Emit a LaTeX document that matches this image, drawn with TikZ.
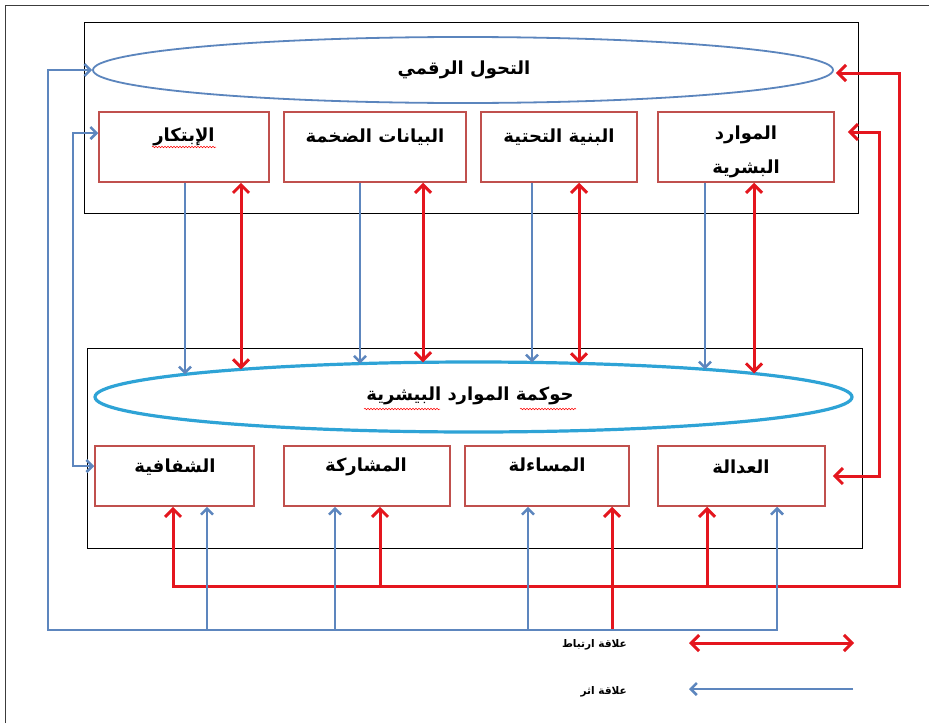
\documentclass[tikz,border=0pt]{standalone}
\usepackage{fontspec}
\newfontfamily\arabicfont[Script=Arabic]{DejaVu Sans}
\TeXXeTstate=1
\usetikzlibrary{arrows.meta,shapes.geometric,decorations.pathmorphing}
\newcommand\artxt[1]{\beginR #1\endR}
\definecolor{boxred}{HTML}{C0504D}
\definecolor{ellone}{HTML}{5B85BD}
\definecolor{elltwo}{HTML}{2EA3D6}
\definecolor{arrblue}{HTML}{5D86BE}
\definecolor{arrred}{HTML}{E4161E}
\definecolor{framec}{HTML}{3C3C3C}
\tikzset{
  redtip/.tip={Straight Barb[length=8pt,width=16pt]},
  bluetip/.tip={Straight Barb[length=6pt,width=12pt]},
  rbox/.style={draw=boxred, line width=1.5pt, inner sep=0pt, rectangle},
  cont/.style={draw=black, line width=0.8pt, inner sep=0pt, rectangle},
  lbl/.style={font=\arabicfont\bfseries\fontsize{18}{22}\selectfont, inner sep=0pt, align=center},
  leg/.style={font=\arabicfont\bfseries\fontsize{10.5}{13}\selectfont, inner sep=0pt},
  redarr/.style={draw=arrred, line width=3pt, -redtip},
  reddbl/.style={draw=arrred, line width=3pt, redtip-redtip},
  bluearr/.style={draw=arrblue, line width=2.5pt, -bluetip},
  bluedbl/.style={draw=arrblue, line width=2.5pt, bluetip-bluetip},
  squig/.style={draw=red, line width=0.5pt, decorate, decoration={snake, amplitude=0.8pt, segment length=3pt}}
}
\begin{document}
\begin{tikzpicture}[x=1pt,y=-1pt]
\useasboundingbox (0,0) rectangle (929,723);
\fill[white] (0,0) rectangle (929,723);
\draw[framec, line width=1pt] (5,723) -- (5,5) -- (929,5);

% containers
\node[cont, minimum width=774pt, minimum height=191pt] (topc) at (471,117.5) {};
\node[cont, minimum width=775pt, minimum height=200pt] (botc) at (474.5,448) {};

% ellipses
\node[ellipse, draw=ellone, line width=1.8pt, minimum width=740pt, minimum height=66pt, inner sep=0pt] (dt) at (463,70) {};
\node[lbl] (dtt) at (464,70) {\artxt{التحول الرقمي}};
\node[ellipse, draw=elltwo, line width=3.2pt, minimum width=757pt, minimum height=70pt, inner sep=0pt] (gov) at (473.5,397) {};
\node[lbl] (govt) at (470,396) {\artxt{حوكمة الموارد البيشرية}};

% top boxes
\node[rbox, minimum width=170pt, minimum height=70pt] (inn) at (184,147) {};
\node[rbox, minimum width=182pt, minimum height=70pt] (bigd) at (375,147) {};
\node[rbox, minimum width=156pt, minimum height=70pt] (infra) at (559,147) {};
\node[rbox, minimum width=176pt, minimum height=70pt] (hr) at (746,147) {};
\node[lbl] (innt) at (184,137) {\artxt{الإبتكار}};
\node[lbl] (bigdt) at (375,137) {\artxt{البيانات  الضخمة}};
\node[lbl] (infrat) at (559,137) {\artxt{البنية التحتية}};
\node[lbl] (hrt) at (746,152) {\artxt{الموارد}\\[12pt]\artxt{البشرية}};

% bottom boxes
\node[rbox, minimum width=159pt, minimum height=60pt] (trans) at (174.5,476) {};
\node[rbox, minimum width=166pt, minimum height=60pt] (part) at (367,476) {};
\node[rbox, minimum width=164pt, minimum height=60pt] (acc) at (547,476) {};
\node[rbox, minimum width=167pt, minimum height=60pt] (just) at (741.5,476) {};
\node[lbl] (transt) at (175,467) {\artxt{الشفافية}};
\node[lbl] (partt) at (366,467) {\artxt{المشاركة}};
\node[lbl] (acct) at (547,465) {\artxt{المساءلة}};
\node[lbl] (justt) at (741,467) {\artxt{العدالة}};

% points on the top of the lower ellipse
\coordinate (g1) at (185,374.3);
\coordinate (g2) at (360,363.6);
\coordinate (g3) at (532,362.4);
\coordinate (g4) at (705,369.3);
\coordinate (h1) at (241,369.4);
\coordinate (h2) at (423,362.3);
\coordinate (h3) at (579,363.4);
\coordinate (h4) at (754,373.5);

% influence arrows top -> governance
\draw[bluearr] (inn.south -| g1) -- (g1);
\draw[bluearr] (bigd.south -| g2) -- (g2);
\draw[bluearr] (infra.south -| g3) -- (g3);
\draw[bluearr] (hr.south -| g4) -- (g4);
% correlation arrows
\draw[reddbl] (inn.south -| h1) -- (h1);
\draw[reddbl] (bigd.south -| h2) -- (h2);
\draw[reddbl] (infra.south -| h3) -- (h3);
\draw[reddbl] (hr.south -| h4) -- (h4);

% lower red network
\coordinate (rl) at (173,586);
\coordinate (rr) at (899,586);
\coordinate (rb2) at (380,586);
\coordinate (rb3) at (707,586);
\coordinate (rb4) at (612,630);
\draw[reddbl] (trans.south -| rl) -- (rl) -- (rr) |- ([xshift=2pt,yshift=-3pt]dt.east);
\draw[redarr] (rb2) -- (part.south -| rb2);
\draw[redarr] (rb3) -- (just.south -| rb3);
\draw[redarr] (rb4) -- (acc.south -| rb4);

% lower blue network
\coordinate (bl) at (48,630);
\coordinate (br) at (777,630);
\coordinate (bb1) at (207,630);
\coordinate (bb2) at (335,630);
\coordinate (bb3) at (528,630);
\draw[bluedbl] (just.south -| br) -- (br) -- (bl) |- (dt.west);
\draw[bluearr] (bb1) -- (trans.south -| bb1);
\draw[bluearr] (bb2) -- (part.south -| bb2);
\draw[bluearr] (bb3) -- (acc.south -| bb3);

% inner side links
\coordinate (bx) at (73,300);
\draw[bluedbl] ([yshift=14pt]inn.west) -| (bx) |- ([yshift=10pt]trans.west);
\coordinate (rx) at (879,300);
\draw[reddbl] ([xshift=13pt,yshift=15pt]hr.east) -| (rx) |- ([xshift=7pt]just.east);

% spelling marks
\draw[squig] (152,147) -- (216,147);
\draw[squig] (364,409) -- (440,409);
\draw[squig] (520,409) -- (576,409);

% legend
\coordinate (lr1) at (689,643);
\coordinate (lr2) at (854,643);
\draw[reddbl] (lr1) -- (lr2);
\coordinate (lb1) at (689,689);
\coordinate (lb2) at (853,689);
\draw[bluearr] (lb2) -- (lb1);
\node[leg, anchor=east] (leg1) at (627,645) {\artxt{علاقة ارتباط}};
\node[leg, anchor=east] (leg2) at (627,692) {\artxt{علاقة اثر}};
\end{tikzpicture}
\end{document}
